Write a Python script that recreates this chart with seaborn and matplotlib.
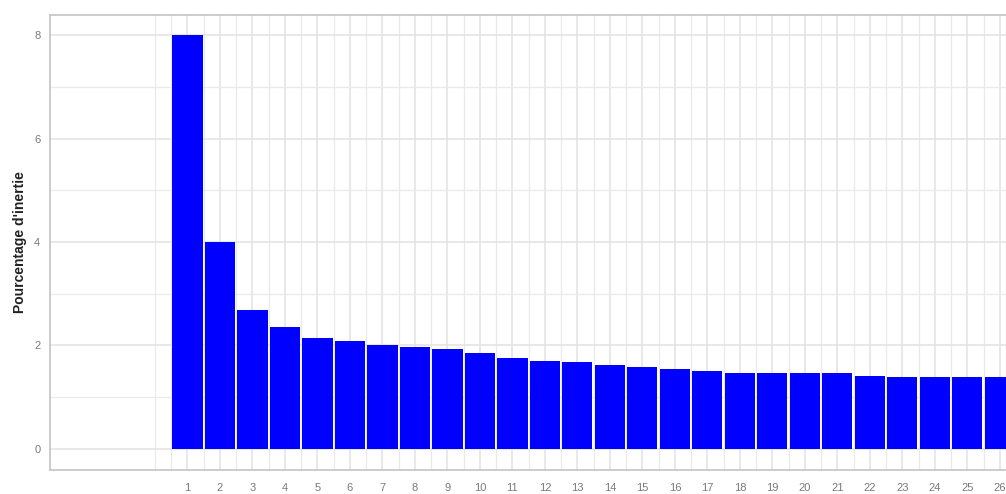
import numpy as np
import pandas as pd
import matplotlib
matplotlib.use("Agg")
import matplotlib.pyplot as plt
import seaborn as sns

dimensions = list(range(1, 27))
inertie = [8.00, 4.00, 2.69, 2.35, 2.15, 2.09, 2.01, 1.97, 1.93, 1.85,
           1.76, 1.70, 1.67, 1.62, 1.58, 1.54, 1.50, 1.46, 1.46, 1.46,
           1.46, 1.41, 1.39, 1.39, 1.39, 1.38]
y_ticks = [0, 2, 4, 6, 8]

sns.set_theme(style="white")
plt.rcParams['font.family'] = ['Liberation Sans', 'DejaVu Sans']

df = pd.DataFrame({"dim": dimensions, "pct": inertie})

fig = plt.figure(figsize=(10.06, 4.94), dpi=100)
ax = fig.add_axes([50/1006, 24/494, 1 - 50/1006 + 0.01, (470-15)/494])

sns.barplot(data=df, x="dim", y="pct", native_scale=True, color="#0000ff",
            saturation=1, width=0.93, ax=ax, edgecolor="none", zorder=3)

ax.set_xlim(-3.23, 26.4)
ax.set_ylim(-0.41, 8.39)

ax.set_xticks(dimensions)
ax.set_xticklabels([str(d) for d in dimensions])
ax.set_xticks([0] + [d + 0.5 for d in [0] + dimensions], minor=True)
ax.set_yticks(y_ticks)
ax.set_yticks([1, 3, 5, 7], minor=True)

ax.grid(True, which="major", color="#e2e2e2", linewidth=1.1, zorder=0)
ax.grid(True, which="minor", color="#e9e9e9", linewidth=0.9, zorder=0)
ax.set_axisbelow(True)

ax.tick_params(axis="both", which="major", length=3, width=0.8, color="#b3b3b3",
               labelsize=8, labelcolor="#7a7a7a")
ax.tick_params(axis="x", which="major", pad=6)
ax.tick_params(axis="y", which="major", pad=4)
ax.tick_params(axis="both", which="minor", length=0)

for side in ["left", "top", "bottom"]:
    ax.spines[side].set_visible(True)
    ax.spines[side].set_color("#c8c8c8")
    ax.spines[side].set_linewidth(1.3)
ax.spines["right"].set_visible(False)

ax.set_xlabel("")
ax.set_ylabel("Pourcentage d'inertie", fontsize=10, fontweight="bold",
              color="#222222", labelpad=5)

fig.savefig("out.png", dpi=100)
